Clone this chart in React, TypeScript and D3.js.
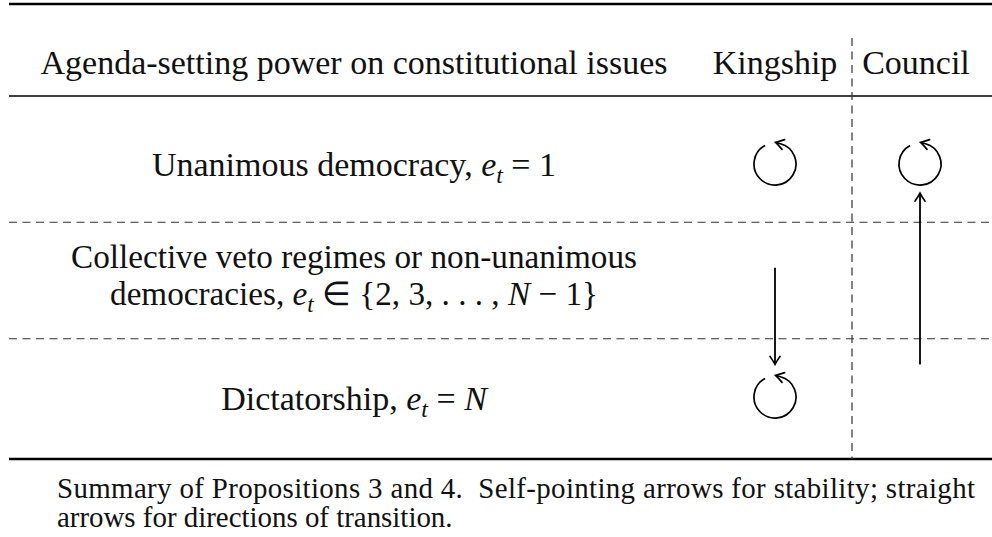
import React from "react";
import * as d3 from "d3";

type Seg = { t: string; i?: boolean; sub?: boolean };

const HEADER_LABEL = "Agenda-setting power on constitutional issues";
const COLUMNS = ["Kingship", "Council"];
const ROW_LINES: Seg[][][] = [
  [[{ t: "Unanimous democracy, " }, { t: "e", i: true }, { t: "t", i: true, sub: true }, { t: " = 1" }]],
  [
    [{ t: "Collective veto regimes or non-unanimous" }],
    [
      { t: "democracies, " },
      { t: "e", i: true },
      { t: "t", i: true, sub: true },
      { t: " ∈ {2, 3, . . . , " },
      { t: "N", i: true },
      { t: " − 1}" },
    ],
  ],
  [[{ t: "Dictatorship, " }, { t: "e", i: true }, { t: "t", i: true, sub: true }, { t: " = " }, { t: "N", i: true }]],
];
// self-pointing (stability) arrows per row, per column [Kingship, Council]
const SELF_LOOPS: boolean[][] = [
  [true, true],
  [false, false],
  [true, false],
];
// straight transition arrows, positions in row units (0 = first row centre)
const TRANSITIONS = [
  { column: "Kingship", from: 0.89, to: 1.72 },
  { column: "Council", from: 1.72, to: 0.25 },
];
const CAPTION = [
  "Summary of Propositions 3 and 4.  Self-pointing arrows for stability; straight",
  "arrows for directions of transition.",
];

const W = 992;
const H = 537;
const FONT = "'Liberation Serif', 'Times New Roman', serif";

function Arrowhead({ x, y, dx, dy }: { x: number; y: number; dx: number; dy: number }) {
  const len = Math.hypot(dx, dy);
  const ux = dx / len, uy = dy / len;
  const L = 8, Wd = 5;
  const bx = x - ux * L, by = y - uy * L;
  const px = -uy, py = ux;
  const p = d3.path();
  p.moveTo(bx + px * Wd, by + py * Wd);
  p.quadraticCurveTo(x - ux * 2 + px * 1, y - uy * 2 + py * 1, x, y);
  p.quadraticCurveTo(x - ux * 2 - px * 1, y - uy * 2 - py * 1, bx - px * Wd, by - py * Wd);
  return <path d={p.toString()} fill="none" stroke="#000" strokeWidth={1.7} strokeLinecap="round" />;
}

function Loop({ cx, cy, r }: { cx: number; cy: number; r: number }) {
  const a0 = (-118 * Math.PI) / 180;
  const a1 = (-75 * Math.PI) / 180;
  const p = d3.path();
  p.moveTo(cx + r * Math.cos(a0), cy + r * Math.sin(a0));
  p.arc(cx, cy, r, a0, a1, true);
  const ex = cx + r * Math.cos(a1), ey = cy + r * Math.sin(a1);
  const dx = Math.sin(a1), dy = -Math.cos(a1);
  const tipx = ex + dx * 5, tipy = ey + dy * 5;
  return (
    <g>
      <path d={p.toString() + `L${tipx},${tipy}`} fill="none" stroke="#000" strokeWidth={1.7} />
      <Arrowhead x={tipx} y={tipy} dx={dx} dy={dy} />
    </g>
  );
}

function Line({ segs, x, y, size }: { segs: Seg[]; x: number; y: number; size: number }) {
  const sh = size * 0.22;
  let cur = 0;
  return (
    <text x={x} y={y} textAnchor="middle" fontFamily={FONT} fontSize={size} fill="#111">
      {segs.map((s, k) => {
        const target = s.sub ? sh : 0;
        const dy = target - cur;
        cur = target;
        return (
          <tspan
            key={k}
            dy={dy}
            fontStyle={s.i ? "italic" : undefined}
            fontSize={s.sub ? size * 0.7 : undefined}
            style={{ whiteSpace: "pre" }}
          >
            {s.t}
          </tspan>
        );
      })}
    </text>
  );
}

export default function App() {
  const left = 9;
  const right = W;
  const labelX = 354;
  const colX = d3.scalePoint<string>().domain(COLUMNS).range([775, 920]);
  const rowY = d3.scaleLinear().domain([0, 2]).range([164, 397]);
  const dividerX = 852;
  const topRule = 4;
  const headRule = 96;
  const bottomRule = 459;
  const fs = 34;
  const multiFs = 33.2;
  const lineGap = 37;
  const r = 21;
  const capFs = 28.9;

  return (
    <svg width={W} height={H} style={{ position: "absolute", left: 0, top: 0, background: "#fff" }}>
      <rect width={W} height={H} fill="#fff" />
      {/* rules */}
      <line x1={left} x2={right} y1={topRule} y2={topRule} stroke="#000" strokeWidth={2.4} />
      <line x1={left} x2={right} y1={headRule} y2={headRule} stroke="#000" strokeWidth={1.4} />
      <line x1={left} x2={right} y1={bottomRule} y2={bottomRule} stroke="#000" strokeWidth={2.4} />
      {[0.5, 1.5].map((v) => (
        <line
          key={v}
          x1={left}
          x2={right}
          y1={rowY(v)}
          y2={rowY(v)}
          stroke="#333"
          strokeWidth={1.2}
          strokeDasharray="8 5.5"
        />
      ))}
      <line x1={dividerX} x2={dividerX} y1={38} y2={bottomRule} stroke="#333" strokeWidth={1.2} strokeDasharray="8 5.5" />

      {/* header */}
      <text x={labelX} y={74} textAnchor="middle" fontFamily={FONT} fontSize={fs} fill="#111">
        {HEADER_LABEL}
      </text>
      {COLUMNS.map((c) => (
        <text key={c} x={(colX(c) as number) - (c === "Council" ? 4 : 0)} y={74} textAnchor="middle" fontFamily={FONT} fontSize={fs} fill="#111">
          {c}
        </text>
      ))}

      {/* row labels */}
      {ROW_LINES.map((lines, i) =>
        lines.map((segs, j) => (
          <Line
            key={`${i}-${j}`}
            segs={segs}
            x={labelX}
            y={rowY(i) + 12 + (i === 1 ? -6 : i === 2 ? 1 : 0) + (j - (lines.length - 1) / 2) * lineGap}
            size={lines.length > 1 ? multiFs : fs}
          />
        ))
      )}

      {/* self loops */}
      {SELF_LOOPS.map((row, i) =>
        row.map((on, j) => (on ? <Loop key={`${i}-${j}`} cx={colX(COLUMNS[j]) as number} cy={rowY(i)} r={r} /> : null))
      )}

      {/* transitions */}
      {TRANSITIONS.map((t, k) => {
        const x = colX(t.column) as number;
        const y0 = rowY(t.from);
        const y1 = rowY(t.to);
        const dir = Math.sign(y1 - y0);
        return (
          <g key={k}>
            <line x1={x} x2={x} y1={y0} y2={y1 - dir * 1} stroke="#000" strokeWidth={1.8} />
            <Arrowhead x={x} y={y1} dx={0} dy={dir} />
          </g>
        );
      })}

      {/* caption */}
      <text x={57} y={498} fontFamily={FONT} fontSize={capFs} fill="#111" textLength={918} lengthAdjust="spacing" style={{ whiteSpace: "pre" }}>
        {CAPTION[0]}
      </text>
      <text x={57} y={527} fontFamily={FONT} fontSize={capFs} fill="#111" style={{ whiteSpace: "pre" }}>
        {CAPTION[1]}
      </text>
    </svg>
  );
}
